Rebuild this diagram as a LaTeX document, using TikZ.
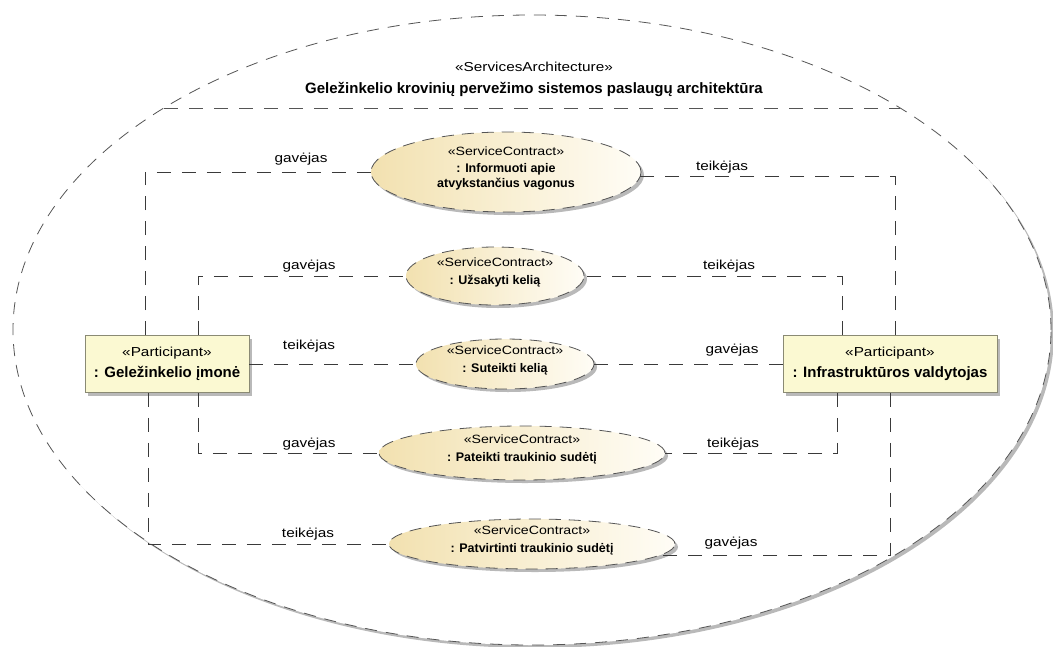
\documentclass[tikz,border=0pt]{standalone}
\usepackage{fontspec}
\setmainfont{Liberation Sans}
\newfontfamily\widesans{Liberation Sans}[FakeStretch=1.18]
\usetikzlibrary{shapes.geometric,shadows,calc}

\definecolor{ellDark}{HTML}{F2E1B0}
\definecolor{ellLight}{HTML}{FFFDF6}
\definecolor{boxFill}{HTML}{FBF9D2}
\definecolor{boxLine}{HTML}{8A8A74}
\definecolor{dashLine}{HTML}{555555}
\definecolor{connLine}{HTML}{3A3A3A}

\newcommand\fStereo{\widesans\mdseries\fontsize{13}{15}\selectfont}
\newcommand\fStereoSm{\widesans\mdseries\fontsize{12}{14}\selectfont}
\newcommand\fName{\normalfont\bfseries\fontsize{15}{21}\selectfont}
\newcommand\fNameSm{\normalfont\bfseries\fontsize{12.5}{15}\selectfont}

\begin{document}
\begin{tikzpicture}[x=1pt,y=-1pt,
  softshadow/.style={drop shadow={shadow xshift=3pt,shadow yshift=-3pt,fill=gray,opacity=0.55}},
  frameshape/.style={ellipse,draw=dashLine,line width=0.8pt,dash pattern=on 12pt off 9pt,
    fill=white,minimum width=1038pt,minimum height=630pt,inner sep=0pt,softshadow},
  contract/.style={ellipse,draw=dashLine,line width=0.8pt,dash pattern=on 12pt off 8pt,
    left color=ellDark,right color=ellLight,inner sep=0pt,softshadow},
  contracttext/.style={font=\fNameSm,align=center,inner sep=0pt},
  participant/.style={rectangle,draw=boxLine,line width=0.8pt,fill=boxFill,inner sep=0pt,
    minimum height=57pt,font=\fName,align=center,softshadow},
  conn/.style={draw=connLine,line width=0.8pt,dash pattern=on 14pt off 11pt},
  sepline/.style={draw=dashLine,line width=0.8pt,dash pattern=on 14pt off 11pt},
  role/.style={font=\fStereo,inner sep=0pt}
]
\useasboundingbox (0,0) rectangle (1053,646);

% services architecture frame
\node[frameshape] (frame) at (532,330) {};
\draw[sepline] ($(frame.center)+(-368,-222)$) -- ($(frame.center)+(368,-222)$);
\node[font=\fStereo,inner sep=0pt] (tStereo) at (534,67) {«ServicesArchitecture»};
\node[font=\fName,inner sep=0pt] (tName) at (534,89) {Geležinkelio krovinių pervežimo sistemos paslaugų architektūra};

% service contracts (shapes)
\node[contract,minimum width=270pt,minimum height=80pt] (E1) at (506,172) {};
\node[contract,minimum width=178pt,minimum height=58pt] (E2) at (495,276) {};
\node[contract,minimum width=178pt,minimum height=50pt] (E3) at (505,364) {};
\node[contract,minimum width=286pt,minimum height=54pt] (E4) at (522,453) {};
\node[contract,minimum width=286pt,minimum height=50pt] (E5) at (532,544) {};

% participants
\node[participant,minimum width=164pt] (L) at (167,364)
  {{\fStereo «Participant»}\\{\fName : Geležinkelio įmonė}};
\node[participant,minimum width=214pt] (R) at (890,364)
  {{\fStereo «Participant»}\\{\fName : Infrastruktūros valdytojas}};

% routing columns
\coordinate (xL1t) at (145,0);
\coordinate (xL1b) at (148,0);
\coordinate (xL2)  at (198,0);
\coordinate (xR1t) at (895,0);
\coordinate (xR1b) at (890,0);
\coordinate (xR2t) at (842,0);
\coordinate (xR2b) at (837,0);

% connectors
\draw[conn] (L.north -| xL1t) |- (E1.west);
\draw[conn] (L.north -| xL2) |- (E2.west);
\draw[conn] (L.east) -- (E3.west);
\draw[conn] (L.south -| xL2) |- (E4.west);
\draw[conn] (L.south -| xL1b) |- (E5.west);
\draw[conn] (R.north -| xR1t) |- ($(E1.center)+(134,4)$);
\draw[conn] (R.north -| xR2t) |- (E2.east);
\draw[conn] (R.west) -- (E3.east);
\draw[conn] (R.south -| xR2b) |- (E4.east);
\draw[conn] (R.south -| xR1b) |- ($(E5.center)+(128,11)$);

% contract texts
\node[contracttext] (E1t) at ($(E1.center)+(0,-4)$)
  {{\fStereoSm «ServiceContract»}\\[2pt]{\fNameSm : Informuoti apie}\\{\fNameSm atvykstančius vagonus}};
\node[contracttext] (E2t) at ($(E2.center)+(0,-3.5)$)
  {{\fStereoSm «ServiceContract»}\\[3pt]{\fNameSm : Užsakyti kelią}};
\node[contracttext] (E3t) at ($(E3.center)+(0,-3.5)$)
  {{\fStereoSm «ServiceContract»}\\[3pt]{\fNameSm : Suteikti kelią}};
\node[contracttext] (E4t) at ($(E4.center)+(0,-3.5)$)
  {{\fStereoSm «ServiceContract»}\\[3pt]{\fNameSm : Pateikti traukinio sudėtį}};
\node[contracttext] (E5t) at ($(E5.center)+(0,-3.5)$)
  {{\fStereoSm «ServiceContract»}\\[3pt]{\fNameSm : Patvirtinti traukinio sudėtį}};

% role labels
\node[role] (r1l) at (301,159) {gavėjas};
\node[role] (r1r) at (722,167) {teikėjas};
\node[role] (r2l) at (309,266) {gavėjas};
\node[role] (r2r) at (729,266) {teikėjas};
\node[role] (r3l) at (309,346) {teikėjas};
\node[role] (r3r) at (732,350) {gavėjas};
\node[role] (r4l) at (309,444) {gavėjas};
\node[role] (r4r) at (733,444) {teikėjas};
\node[role] (r5l) at (308,534) {teikėjas};
\node[role] (r5r) at (731,543) {gavėjas};
\end{tikzpicture}
\end{document}
